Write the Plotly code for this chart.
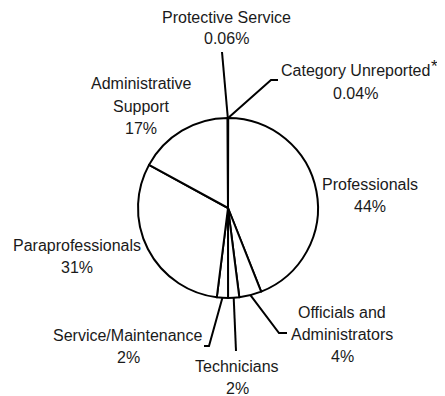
import math
import plotly.graph_objects as go

# slice data, clockwise from 12 o'clock
labels = ["Category Unreported", "Professionals", "Officials and Administrators", "Technicians",
          "Service/Maintenance", "Paraprofessionals", "Administrative Support", "Protective Service"]
values = [0.04, 44, 4, 2, 2, 31, 17, 0.06]
pct_text = ["0.04%", "44%", "4%", "2%", "2%", "31%", "17%", "0.06%"]
label_text = ["Category Unreported", "Professionals", "Officials and<br>Administrators", "Technicians",
              "Service/Maintenance", "Paraprofessionals", "Administrative<br>Support", "Protective Service"]
footnote_mark = "*"

# page body has an 8px margin, so work in window pixels and shift
OFF = 8
W, H = 445 - OFF, 396 - OFF
cx, cy, r = 228, 208, 90
LINE = 22  # line spacing of the labels

# label block centres (window pixels)
label_pos = [(355, 82), (370, 196), (342, 334), (237, 377),
             (128, 346), (77, 256), (141, 106), (226, 28)]
# leader lines: points beyond the rim (window pixels)
leaders = {0: [(271, 80), (278, 80)], 2: [(279, 333), (287, 333)], 3: [(236, 351)],
           4: [(209, 346), (204, 346)], 7: [(222, 52)]}


def px(x, y):
    return (x - OFF) / W, 1 - (y - OFF) / H


fig = go.Figure()
x0, y0 = px(cx - r, cy + r)
x1, y1 = px(cx + r, cy - r)
fig.add_trace(go.Pie(labels=labels, values=values, sort=False, direction="clockwise", rotation=0,
                     textinfo="none", hoverinfo="label+percent",
                     marker=dict(colors=["white"] * len(values), line=dict(color="black", width=2)),
                     domain=dict(x=[x0, x1], y=[y0, y1])))

total = sum(values)
cum = 0
shapes = []
for i, v in enumerate(values):
    mid = (cum + v / 2) / total * 2 * math.pi
    cum += v
    if i in leaders:
        pts = [(cx + r * math.sin(mid), cy - r * math.cos(mid))] + leaders[i]
        path = ""
        for j, (x, y) in enumerate(pts):
            a, b = px(x, y)
            path += ("M" if j == 0 else " L") + f" {a} {b}"
        shapes.append(dict(type="path", path=path, xref="paper", yref="paper",
                           line=dict(color="black", width=2)))

annotations = []
for i in range(len(labels)):
    lines = label_text[i].split("<br>") + [pct_text[i]]
    bx, by = label_pos[i]
    top = by - LINE * (len(lines) - 1) / 2
    for k, t in enumerate(lines):
        a, b = px(bx, top + k * LINE)
        annotations.append(dict(text=t, x=a, y=b, xref="paper", yref="paper",
                                xanchor="center", yanchor="middle", showarrow=False))

# asterisk after "Category Unreported"
a, b = px(434, 66)
annotations.append(dict(text=footnote_mark, x=a, y=b, xref="paper", yref="paper",
                        xanchor="center", yanchor="middle", showarrow=False,
                        font=dict(family="Liberation Sans, Arial", size=17, color="#1a1a1a")))

fig.update_layout(width=W, height=H, margin=dict(l=0, r=0, t=0, b=0), showlegend=False,
                  paper_bgcolor="white", plot_bgcolor="white",
                  font=dict(family="Liberation Sans, Arial", size=16, color="#1a1a1a"),
                  shapes=shapes, annotations=annotations)

fig.write_html("out.html")
